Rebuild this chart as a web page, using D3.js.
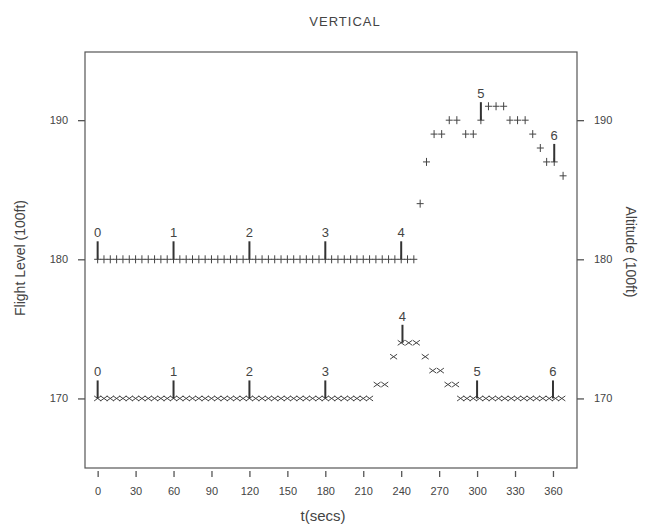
<!DOCTYPE html>
<html>
<head>
<meta charset="utf-8">
<script src="https://cdn.jsdelivr.net/npm/d3@7"></script>
<style>
  body { margin: 0; background: #fff; }
  svg { font-family: "Liberation Sans", Arial, sans-serif; }
</style>
</head>
<body>
<svg></svg>
<script>
// Flight level track (+), sampled every ~5-6 s
const flightT = [0,5,10,15,20,25,30,35,40,45,50,55,60,65,70,75,80,85,90,95,100,105,110,115,120,125,130,135,140,145,150,155,160,165,170,175,180,185,190,195,200,205,210,215,220,225,230,235,240,245,250,
                 255,260,266,272,278,284,291,297,303,309,315,321,326,332,338,344,350,355,361,368];
const flightV = [180,180,180,180,180,180,180,180,180,180,180,180,180,180,180,180,180,180,180,180,180,180,180,180,180,180,180,180,180,180,180,180,180,180,180,180,180,180,180,180,180,180,180,180,180,180,180,180,180,180,180,
                 184,187,189,189,190,190,189,189,190,191,191,191,190,190,190,189,188,187,187,186];

// Altitude track (x)
const altT = [0,5,10,15,20,25,30,35,40,45,50,55,60,65,70,75,80,85,90,95,100,105,110,115,120,125,130,135,140,145,150,155,160,165,170,175,180,185,190,195,200,205,210,215,
              221,227,234,240,246,252,259,265,271,277,283,
              287,292,297,302,307,312,317,322,327,332,337,342,347,352,357,362,367];
const altV = [170,170,170,170,170,170,170,170,170,170,170,170,170,170,170,170,170,170,170,170,170,170,170,170,170,170,170,170,170,170,170,170,170,170,170,170,170,170,170,170,170,170,170,170,
              171,171,173,174,174,174,173,172,172,171,171,
              170,170,170,170,170,170,170,170,170,170,170,170,170,170,170,170,170];

// Numbered event markers
const markNames = ["0","1","2","3","4","5","6"];
const flightMarkT = [0,60,120,180,240,303,361];
const flightMarkV = [180,180,180,180,180,190,187];
const altMarkT = [0,60,120,180,241,300,360];
const altMarkV = [170,170,170,170,174,170,170];

const xTicks = [0,30,60,90,120,150,180,210,240,270,300,330,360];
const yTicks = [170,180,190];

const width = 645;
const height = 527;
const ink = "#444";

const x = d3.scaleLinear().domain([-10, 379]).range([85, 577]);
const y = d3.scaleLinear().domain([165, 194.9]).range([468, 52]);

const svg = d3.select("svg")
    .attr("width", width)
    .attr("height", height);

// frame
svg.append("rect")
    .attr("x", x.range()[0])
    .attr("y", y.range()[1])
    .attr("width", x.range()[1] - x.range()[0])
    .attr("height", y.range()[0] - y.range()[1])
    .attr("fill", "none")
    .attr("stroke", "#555")
    .attr("stroke-width", 1.2);

// axes
function styleAxis(g) {
    g.select(".domain").remove();
    g.selectAll("line").attr("stroke", "#555").attr("stroke-width", 1.3);
    g.selectAll("text").attr("fill", ink).style("font-size", "11px")
        .style("font-family", "'Liberation Sans', Arial, sans-serif");
}

svg.append("g")
    .attr("transform", "translate(0," + (y.range()[0] + 3) + ")")
    .call(d3.axisBottom(x).tickValues(xTicks).tickSize(6).tickPadding(10))
    .call(styleAxis);

svg.append("g")
    .attr("transform", "translate(" + x.range()[0] + ",0)")
    .call(d3.axisLeft(y).tickValues(yTicks).tickSize(7).tickPadding(10))
    .call(styleAxis);

svg.append("g")
    .attr("transform", "translate(" + x.range()[1] + ",0)")
    .call(d3.axisRight(y).tickValues(yTicks).tickSize(7).tickPadding(10))
    .call(styleAxis);

// titles
svg.append("text")
    .attr("x", 345).attr("y", 26)
    .attr("text-anchor", "middle")
    .attr("fill", ink)
    .style("font-size", "13px")
    .style("letter-spacing", "1px")
    .text("VERTICAL");

svg.append("text")
    .attr("x", 323).attr("y", 521)
    .attr("text-anchor", "middle")
    .attr("fill", ink)
    .style("font-size", "15px")
    .text("t(secs)");

svg.append("text")
    .attr("transform", "translate(25,258) rotate(-90)")
    .attr("text-anchor", "middle")
    .attr("fill", ink)
    .style("font-size", "14px")
    .text("Flight Level (100ft)");

svg.append("text")
    .attr("transform", "translate(626,252) rotate(90)")
    .attr("text-anchor", "middle")
    .attr("fill", ink)
    .style("font-size", "14px")
    .text("Altitude (100ft)");

// point markers
const flightPts = flightT.map((t, i) => ({t: t, v: flightV[i]}));
const altPts = altT.map((t, i) => ({t: t, v: altV[i]}));

svg.append("g").selectAll("path")
    .data(flightPts)
    .enter()
    .append("path")
    .attr("transform", d => "translate(" + x(d.t) + "," + y(d.v) + ")")
    .attr("d", "M-3.5,0H3.5M0,-4V4")
    .attr("stroke", ink)
    .attr("stroke-width", 1)
    .attr("fill", "none");

svg.append("g").selectAll("path")
    .data(altPts)
    .enter()
    .append("path")
    .attr("transform", d => "translate(" + x(d.t) + "," + y(d.v) + ")")
    .attr("d", "M-3.5,-2.5L3.5,2.5M-3.5,2.5L3.5,-2.5")
    .attr("stroke", ink)
    .attr("stroke-width", 1)
    .attr("fill", "none");

// numbered event markers
function drawMarks(ts, vs) {
    const marks = ts.map((t, i) => ({t: t, v: vs[i], n: markNames[i]}));
    const g = svg.append("g");
    g.selectAll("line")
        .data(marks)
        .enter()
        .append("line")
        .attr("x1", d => x(d.t)).attr("x2", d => x(d.t))
        .attr("y1", d => y(d.v)).attr("y2", d => y(d.v) - 18)
        .attr("stroke", "#333")
        .attr("stroke-width", 2);
    g.selectAll("text")
        .data(marks)
        .enter()
        .append("text")
        .attr("x", d => x(d.t))
        .attr("y", d => y(d.v) - 22)
        .attr("text-anchor", "middle")
        .attr("fill", ink)
        .style("font-size", "13px")
        .text(d => d.n);
}

drawMarks(flightMarkT, flightMarkV);
drawMarks(altMarkT, altMarkV);
</script>
</body>
</html>
